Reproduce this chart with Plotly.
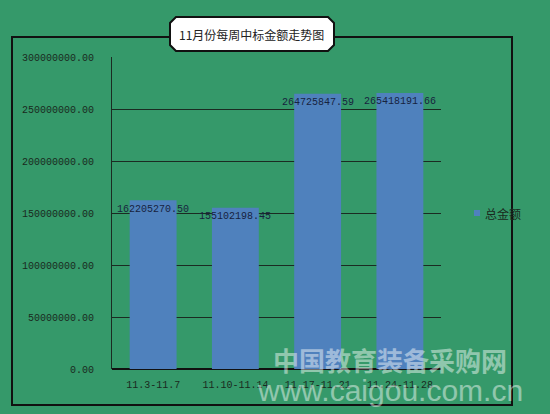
import plotly.graph_objects as go

categories = ["11.3-11.7", "11.10-11.14", "11.17-11.21", "11.24-11.28"]
values = [162205270.50, 155102198.45, 264725847.59, 265418191.66]
value_labels = ["162205270.50", "155102198.45", "264725847.59", "265418191.66"]
series_name = "总金额"
title_text = "11月份每周中标金额走势图"

BG = "#35996a"
BAR = "#4f81bd"
W, H = 550, 414
L, R, T, B = 112, 441, 57, 369

def px(x):
    return (x - L) / (R - L)

def py(y):
    return (B - y) / (B - T)

fig = go.Figure()
fig.add_trace(go.Bar(x=categories, y=values, marker_color=BAR, width=0.57,
                     marker_line_width=0, showlegend=False, name=series_name,
                     hoverinfo="skip"))

for c, v, t in zip(categories, values, value_labels):
    fig.add_annotation(x=c, y=v, text=t, showarrow=False, yshift=-9, xanchor="center",
                       font=dict(family="Liberation Mono", size=10, color="#17233f"))

mono = dict(family="Liberation Mono", size=10, color="#1a2a20")

# outer border
fig.add_shape(type="rect", xref="paper", yref="paper",
              x0=px(12), x1=px(512), y0=py(405), y1=py(37),
              line=dict(color="#111", width=2), layer="below")

# title box (chamfered)
x0, x1, y0, y1, c = 170, 334, 17, 51, 6
pts = [(x0 + c, y0), (x1 - c, y0), (x1, y0 + c), (x1, y1 - c), (x1 - c, y1),
       (x0 + c, y1), (x0, y1 - c), (x0, y0 + c)]
path = "M " + " L ".join(f"{px(a):.5f},{py(b):.5f}" for a, b in pts) + " Z"
fig.add_shape(type="path", xref="paper", yref="paper", path=path,
              fillcolor="white", line=dict(color="#111", width=2))
fig.add_annotation(xref="paper", yref="paper", x=px(251), y=py(34), xanchor="center",
                   yanchor="middle", text=title_text, showarrow=False,
                   font=dict(family="Noto Sans CJK SC", size=12, color="#222"))

# legend (custom)
fig.add_shape(type="rect", xref="paper", yref="paper",
              x0=px(474), x1=px(480), y0=py(216), y1=py(210),
              fillcolor=BAR, line=dict(width=0))
fig.add_annotation(xref="paper", yref="paper", x=px(483), y=py(213), xanchor="left",
                   text=series_name, showarrow=False,
                   font=dict(family="Noto Sans CJK SC", size=12, color="#1a2a20"))

# watermark
fig.add_annotation(xref="paper", yref="paper", x=px(390), y=py(359), xanchor="center",
                   yanchor="middle", text="<b>中国教育装备采购网</b>",
                   showarrow=False, opacity=0.45,
                   font=dict(family="Noto Sans CJK SC", size=26, color="white"))
fig.add_annotation(xref="paper", yref="paper", x=px(390), y=py(390), xanchor="center",
                   yanchor="middle", text="www.caigou.com.cn",
                   showarrow=False, opacity=0.45,
                   font=dict(family="Liberation Sans", size=30, color="white"))

fig.update_layout(
    width=W, height=H,
    margin=dict(l=L, r=W - R, t=T, b=H - B, pad=0),
    paper_bgcolor=BG, plot_bgcolor=BG,
    showlegend=False,
    xaxis=dict(showgrid=False, showline=False, ticks="", tickfont=mono,
               zeroline=False, ticklabelstandoff=8),
    yaxis=dict(range=[0, 300000000], dtick=50000000, tickformat=".2f",
               showgrid=True, gridcolor="#1b2b22", gridwidth=1,
               showline=True, linecolor="#1b2b22", linewidth=1,
               zeroline=True, zerolinecolor="#111", zerolinewidth=1.5,
               ticks="", tickfont=mono, ticklabelstandoff=15),
)

fig.write_html("out.html", config={"displayModeBar": False},
               post_script="document.body.style.margin='0';document.body.style.background='" + BG + "';")
